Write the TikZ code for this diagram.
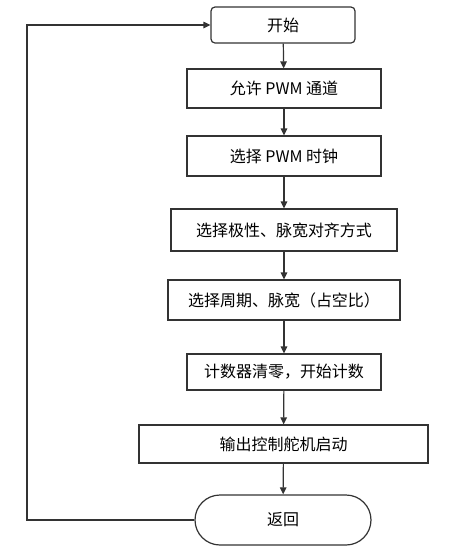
\documentclass[tikz,border=0pt]{standalone}
\usepackage{fontspec}
\setmainfont{Noto Sans CJK SC}
\usetikzlibrary{
    arrows.meta,
    shapes,
    positioning,
    calc
}
\tikzset{
    stepbox/.style = {draw=black!80, line width=1.2pt, minimum width=#1, inner sep=0pt, font=\fontsize{16}{18}\selectfont},
    flowarrow/.style = {-{Triangle[length=7pt, width=6.5pt]}, draw=black!80, line width=1.2pt}
}
\begin{document}
\begin{tikzpicture}[x=1pt, y=-1pt]
                \useasboundingbox (0, 0) rectangle (469, 547);
                \node [stepbox=144pt, minimum height=36pt, rounded corners=4pt] (start) at (283, 25) {开始};
                \node [stepbox=194pt, minimum height=39pt] (chan) at (284, 88.5) {允许 PWM 通道};
                \node [stepbox=194pt, minimum height=40pt] (clk) at (284, 156) {选择 PWM 时钟};
                \node [stepbox=226pt, minimum height=42pt] (pol) at (284, 230) {选择极性、脉宽对齐方式};
                \node [stepbox=232pt, minimum height=40pt] (per) at (284, 300) {选择周期、脉宽（占空比）};
                \node [stepbox=194pt, minimum height=36pt] (cnt) at (284, 372) {计数器清零，开始计数};
                \node [stepbox=289pt, minimum height=38pt] (out) at (283.5, 444) {输出控制舵机启动};
                \node [stepbox=176pt, minimum height=50pt, rounded rectangle] (ret) at (283, 520) {返回};
                \foreach \a/\b in {start/chan, chan/clk, clk/pol, pol/per, per/cnt, cnt/out, out/ret}{
                    \draw [flowarrow] (\a) -- (\b);
                }
                \coordinate (loop) at (27, 520);
                \draw [flowarrow] (ret.west) -- (loop) |- (start.west);

            \end{tikzpicture}
\end{document}
